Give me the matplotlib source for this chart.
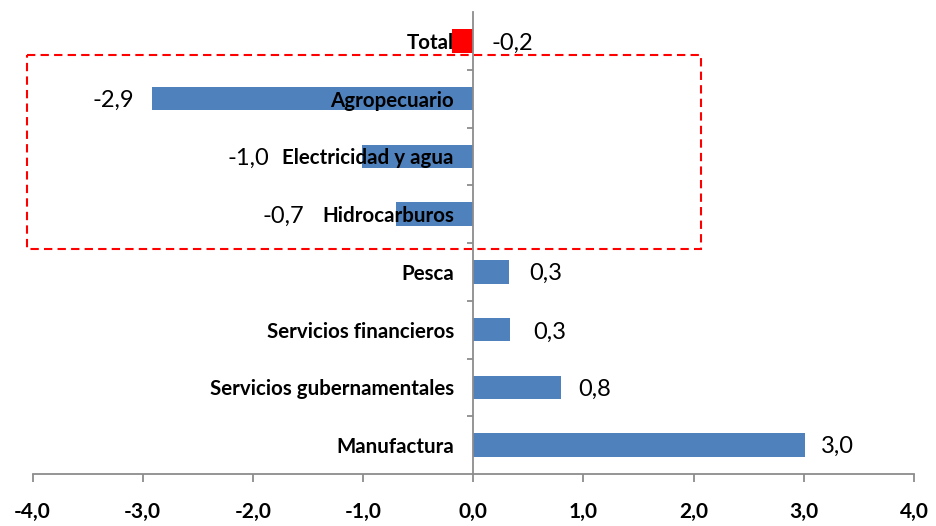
import matplotlib.pyplot as plt
from matplotlib.patches import Rectangle
from matplotlib.ticker import FixedLocator

plt.rcParams['font.family'] = ['Lato', 'DejaVu Sans']

# data, top to bottom
categories = ['Total', 'Agropecuario', 'Electricidad y agua', 'Hidrocarburos',
              'Pesca', 'Servicios financieros', 'Servicios gubernamentales', 'Manufactura']
values = [-0.19, -2.92, -1.01, -0.70, 0.32, 0.33, 0.80, 3.01]
x_ticks = [-4, -3, -2, -1, 0, 1, 2, 3, 4]

# label offsets in pixels (the original labels were moved by hand)
label_dx = [18, -17, -93, -92, 21, 24, 17, 16]
label_dy = [-2, -2, -2, -2, -1, -3, -2, -1]

blue = '#4F81BD'
grey = '#8C8C8C'

fig = plt.figure(figsize=(9.37, 5.26), dpi=100)
ax = fig.add_axes([32.5 / 937, 1 - 474 / 526, 881.5 / 937, 462 / 526])

pos = list(range(len(categories)))
colors = ['#FF0000'] + [blue] * (len(categories) - 1)
ax.barh(pos, values, height=0.41, color=colors, zorder=1)

ax.set_xlim(-4, 4)
ax.set_ylim(len(categories) - 0.5, -0.5)

# value labels
for i, v in enumerate(values):
    txt = f'{v:.1f}'.replace('.', ',')
    anchor = 0 if i == 0 else v
    ha = 'left' if label_dx[i] > 0 else 'right'
    ax.annotate(txt, (anchor, i), xytext=(label_dx[i], label_dy[i]),
                textcoords='offset pixels', ha=ha, va='center', fontsize=17)

# axes look
ax.spines['top'].set_visible(False)
ax.spines['right'].set_visible(False)
ax.spines['left'].set_position(('data', 0))
for s in ['left', 'bottom']:
    ax.spines[s].set_color(grey)
    ax.spines[s].set_linewidth(1.3)

ax.tick_params(axis='x', direction='out', length=6, width=1.3, color=grey, pad=14)
ax.tick_params(axis='y', which='major', length=0, pad=14)
ax.tick_params(axis='y', which='minor', direction='out', length=4.5, width=1.3, color=grey)

ax.set_xticks(x_ticks)
ax.set_xticklabels([f'{t:.1f}'.replace('.', ',') for t in x_ticks])
for lab in ax.get_xticklabels():
    lab.set_fontsize(15)
    lab.set_fontweight('bold')

ax.set_yticks(pos)
ax.set_yticklabels(categories)
for lab in ax.get_yticklabels():
    lab.set_fontsize(14.8)
    lab.set_fontweight('bold')
ax.yaxis.set_minor_locator(FixedLocator([p + 0.5 for p in pos[:-1]]))

# dashed box around the three sectors that fell
box = Rectangle((-4.05, 1 - 0.76), 6.12, 2 + 1.36, fill=False, edgecolor='#FF0000',
                linewidth=1.5, linestyle=(0, (4, 2.5)), clip_on=False, zorder=3)
ax.add_patch(box)

fig.savefig('out.png', dpi=100)
